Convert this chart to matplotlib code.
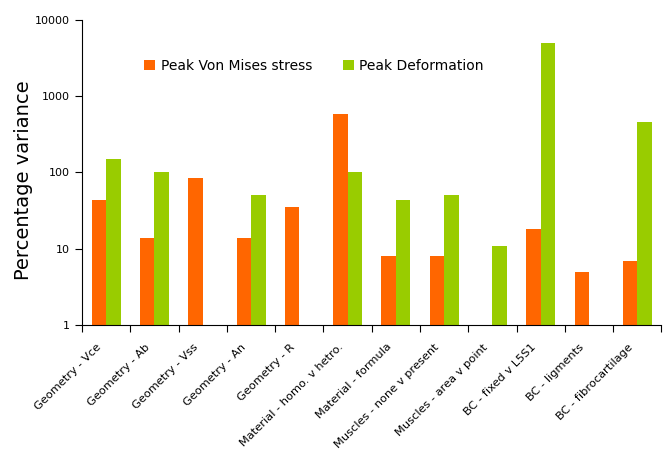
import numpy as np
import matplotlib
matplotlib.use("Agg")
import matplotlib.pyplot as plt
from matplotlib.ticker import FixedLocator, NullLocator
from matplotlib.transforms import ScaledTranslation

# Datos
categorias = ["Geometry - Vce", "Geometry - Ab", "Geometry - Vss", "Geometry - An",
              "Geometry - R", "Material - homo. v hetro.", "Material - formula",
              "Muscles - none v present", "Muscles - area v point", "BC - fixed v L5S1",
              "BC - ligments", "BC - fibrocartilage"]
von_mises = [43, 14, 85, 14, 35, 580, 8, 8, np.nan, 18, 5, 7]
deformacion = [150, 100, np.nan, 50, np.nan, 100, 43, 50, 11, 5000, np.nan, 460]

naranja = "#FF6600"
verde = "#99CC00"

fig = plt.figure(figsize=(6.63, 4.5), dpi=100)
ax = fig.add_axes([0.1237, 0.2778, 0.874, 0.6778])

x = np.arange(len(categorias))
ancho = 0.3
ax.bar(x - ancho / 2, von_mises, ancho, color=naranja, label="Peak Von Mises stress")
ax.bar(x + ancho / 2, deformacion, ancho, color=verde, label="Peak Deformation")

ax.set_yscale("log")
ax.set_ylim(1, 10000)
ax.set_xlim(-0.5, len(categorias) - 0.5)
ax.yaxis.set_major_locator(FixedLocator([1, 10, 100, 1000, 10000]))
ax.yaxis.set_minor_locator(NullLocator())
ax.set_yticklabels(["1", "10", "100", "1000", "10000"], fontsize=8)

# marcas del eje x entre categorias
ax.xaxis.set_major_locator(FixedLocator(np.arange(len(categorias) + 1) - 0.5))
ax.set_xticklabels([])
ax.xaxis.set_minor_locator(FixedLocator(x))
etiquetas = ax.set_xticklabels(categorias, minor=True, rotation=45, ha="right",
                               rotation_mode="anchor", fontsize=8.2)
ax.tick_params(axis="x", which="minor", length=0, pad=10)
ax.tick_params(axis="x", which="major", length=5, direction="out")
ax.tick_params(axis="y", length=5, direction="out")

# desplaza las etiquetas un poco a la izquierda y abajo
desplazamiento = ScaledTranslation(-0.10, -0.03, fig.dpi_scale_trans)
for et in etiquetas:
    et.set_transform(et.get_transform() + desplazamiento)

for lado in ["top", "right"]:
    ax.spines[lado].set_visible(False)

ax.set_ylabel("Percentage variance", fontsize=14)
ax.yaxis.set_label_coords(-0.084, 0.475)

ax.legend(loc="center", bbox_to_anchor=(0.40, 0.85), ncol=2, frameon=False,
          fontsize=10, handlelength=0.8, handleheight=0.8, columnspacing=2.2,
          handletextpad=0.4)

fig.savefig("out.png", dpi=100)
